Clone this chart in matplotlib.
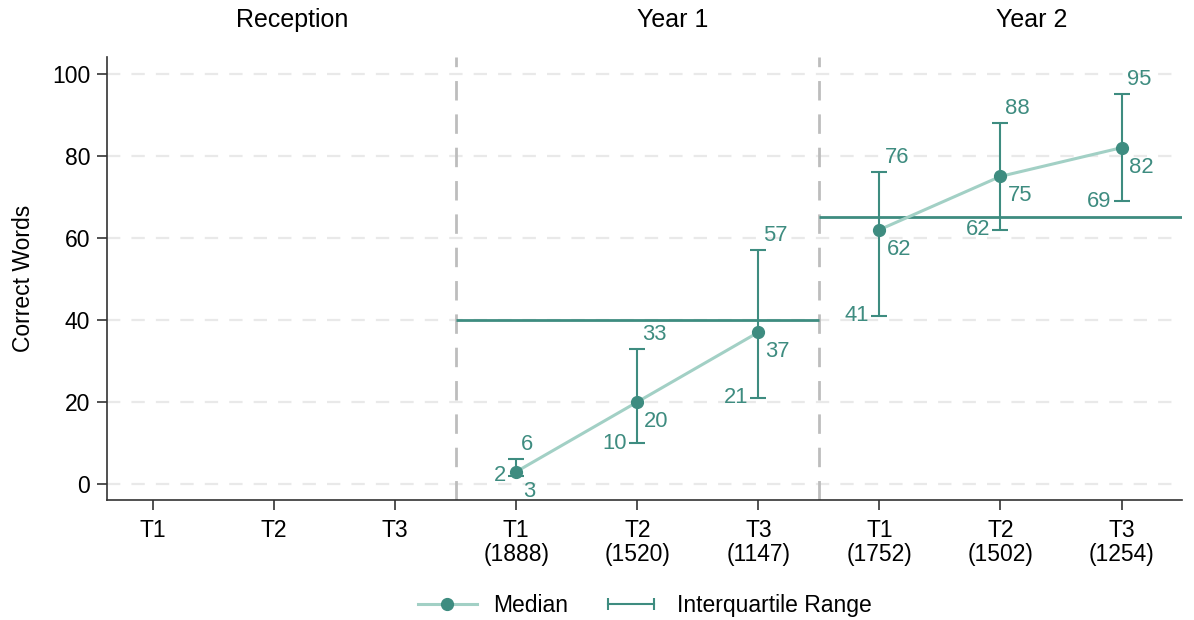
import numpy as np
import matplotlib
matplotlib.use("Agg")
import matplotlib.pyplot as plt
from matplotlib.lines import Line2D
from matplotlib.legend_handler import HandlerLine2D
import matplotlib.transforms as mtransforms

plt.rcParams['font.family'] = ['Liberation Sans', 'DejaVu Sans']

# ---- data ----
panels = ["Reception", "Year 1", "Year 2"]
waves = ["T1", "T2", "T3"]
n_obs = [None, None, None, 1888, 1520, 1147, 1752, 1502, 1254]
median = [np.nan, np.nan, np.nan, 3, 20, 37, 62, 75, 82]
q1 = [np.nan, np.nan, np.nan, 2, 10, 21, 41, 62, 69]
q3 = [np.nan, np.nan, np.nan, 6, 33, 57, 76, 88, 95]
benchmark = [None, 40, 65]

teal = "#3e8c80"
light = "#a2d0c5"
grid_c = "#e9e9e9"
div_c = "#bdbdbd"

fig = plt.figure(figsize=(11.94, 6.2), dpi=100)
ax = fig.add_axes([0.0896, 0.1935, 0.9004, 0.7145])

x = np.arange(9)
med = np.array(median, float)
lo = np.array(q1, float)
hi = np.array(q3, float)

# grid
for yv in range(0, 101, 20):
    ax.axhline(yv, color=grid_c, lw=1.6, ls=(0, (6, 5)), zorder=0)

# dividers between panels
for b in [2.5, 5.5]:
    ax.axvline(b, color=div_c, lw=2.0, ls=(0, (7, 5)), zorder=1)

# benchmarks
for p, bv in enumerate(benchmark):
    if bv is None:
        continue
    x0 = p * 3 - 0.5
    x1 = p * 3 + 2.5
    ax.plot([x0, x1], [bv, bv], color=teal, lw=2.0, zorder=2, solid_capstyle='butt')

# median lines per panel
for p in range(3):
    idx = slice(p * 3, p * 3 + 3)
    ax.plot(x[idx], med[idx], color=light, lw=2.2, zorder=3)

# IQR error bars
valid = ~np.isnan(med)
ax.errorbar(x[valid], med[valid], yerr=[med[valid] - lo[valid], hi[valid] - med[valid]],
            fmt='none', ecolor=teal, elinewidth=1.5, capsize=6, capthick=1.5, zorder=4)
ax.plot(x[valid], med[valid], 'o', color=teal, ms=8.5, zorder=5, linestyle='none')

# labels
fs_lab = 15.8
for xi, m, l, h in zip(x[valid], med[valid], lo[valid], hi[valid]):
    ax.annotate(f"{int(h)}", (xi, h), xytext=(5, 4), textcoords='offset pixels',
                ha='left', va='bottom', color=teal, fontsize=fs_lab)
    ax.annotate(f"{int(m)}", (xi, m), xytext=(7, -9), textcoords='offset pixels',
                ha='left', va='top', color=teal, fontsize=fs_lab)
    ax.annotate(f"{int(l)}", (xi, l), xytext=(-10, 0), textcoords='offset pixels',
                ha='right', va='center', color=teal, fontsize=fs_lab)

# axes styling
ax.set_xlim(-0.38, 8.5)
ax.set_ylim(-3.9, 104.1)
ax.set_xticks(x)
labels = []
for i in range(9):
    w = waves[i % 3]
    labels.append(w if n_obs[i] is None else f"{w}\n({n_obs[i]})")
ax.set_xticklabels(labels, fontsize=16.5, linespacing=1.05, va='top')
ax.set_yticks(range(0, 101, 20))
ax.tick_params(axis='y', labelsize=16.5, length=7, width=1.2, pad=5, color='#333333')
ax.tick_params(axis='x', length=7, width=1.2, pad=7, color='#333333')
ax.set_ylabel("Correct Words", fontsize=16.5, labelpad=12)
for s in ['top', 'right']:
    ax.spines[s].set_visible(False)
for s in ['left', 'bottom']:
    ax.spines[s].set_color('#333333')
    ax.spines[s].set_linewidth(1.2)

# panel titles
trans = mtransforms.blended_transform_factory(ax.transData, fig.transFigure)
title_x = [1.15, 4.29, 7.26]
for name, tx in zip(panels, title_x):
    ax.text(tx, 0.968, name, transform=trans,
            ha='center', va='center', fontsize=18)

# legend
h_med = Line2D([], [], color=light, lw=2.2, marker='o', markersize=8.5,
               markerfacecolor=teal, markeredgecolor=teal)
h_iqr = Line2D([], [], color=teal, lw=1.5, marker='|', markersize=8,
               markeredgewidth=1.5)
fig.legend([h_med, h_iqr], ["Median", "Interquartile Range"],
           loc='center', bbox_to_anchor=(0.540, 0.024), ncol=2, frameon=False,
           fontsize=16.5, handlelength=2.6, columnspacing=1.45, handletextpad=0.7,
           handler_map={h_iqr: HandlerLine2D(numpoints=2), h_med: HandlerLine2D(numpoints=1)})

fig.savefig("out.png", dpi=100)
